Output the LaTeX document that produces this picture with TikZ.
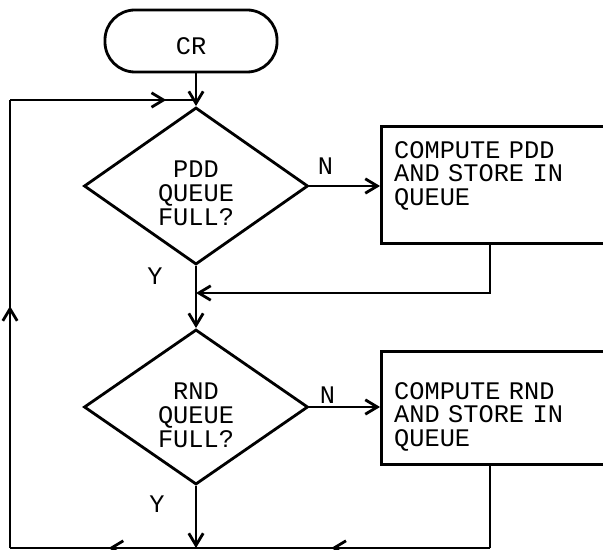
\documentclass[tikz,border=0pt]{standalone}
\usepackage{fontspec}
\setmonofont{Liberation Mono}
\usetikzlibrary{arrows.meta,positioning,shapes.geometric,decorations.markings}

\begin{document}
\begin{tikzpicture}[x=0.025cm,y=-0.025cm,
    line width=2pt,
    every node/.style={font=\ttfamily\fontsize{18}{17}\selectfont},
    flow/.style={-{Straight Barb[length=0.3cm,width=0.36cm]}},
    midflow/.style={postaction={decorate},decoration={markings,
      mark=at position #1 with {\arrow{Straight Barb[length=0.3cm,width=0.36cm]}}}},
    terminal/.style={draw,rectangle,rounded corners=0.75cm,minimum width=4.3cm,
      minimum height=1.55cm,inner sep=0pt,text height=0.72cm,text depth=0.05cm},
    decision/.style={draw,diamond,minimum width=5.6cm,minimum height=3.7cm,
      inner sep=0pt,text width=3cm,align=center,text height=0.25cm},
    process/.style={draw,rectangle,anchor=north west,text width=6cm,
      inner xsep=0.32cm,inner ysep=0pt,align=left},
    yn/.style={inner sep=0pt}]
    \useasboundingbox (0,0) rectangle (603,550);
    \clip (0,0) rectangle (603,550);

    \node[terminal] (cr) at (191,41) {CR};
    \node[decision,text depth=0.675cm] (pddq) at (196,186) {PDD\\QUEUE\\FULL?};
    \node[decision,text depth=0.625cm] (rndq) at (196,407) {RND\\QUEUE\\FULL?};
    \node[process,text height=0.79cm,text depth=2.14cm] (pdd) at (380,125)
      {COMPUTE PDD\\AND STORE IN\\QUEUE};
    \node[process,text height=1.19cm,text depth=1.64cm] (rnd) at (380,350)
      {COMPUTE RND\\AND STORE IN\\QUEUE};

    \node[yn,above right=0.26cm and 0.175cm of pddq.east] (n1) {N};
    \node[yn,below left=0cm and 0.8cm of pddq.south] (y1) {Y};
    \node[yn,above right=0.06cm and 0.225cm of rndq.east] (n2) {N};
    \node[yn,below left=0.21cm and 0.75cm of rndq.south] (y2) {Y};

    % loop corners and return points
    \coordinate (ul) at (10,100);
    \coordinate (ll) at (10,548);
    \coordinate (pddret) at (490,293);
    \coordinate (rndret) at (490,548);

    \draw[flow] (cr.south -| pddq.north) -- (pddq.north);
    \draw[flow] (pddq.east) -- (pddq.east -| pdd.west);
    \draw[flow] (pddq.south) -- (rndq.north);
    \draw[flow] (pdd.south -| pddret) -- (pddret) -- (pddret -| pddq.south);
    \draw[flow] (rndq.east) -- (rndq.east -| rnd.west);
    \draw[flow] (rndq.south) -- (rndq.south |- ll);
    \draw (rnd.south -| rndret) -- (rndret);
    \draw[midflow=0.54] (rndret) -- (rndq.south |- ll);
    \draw[midflow=0.47] (rndq.south |- ll) -- (ll);
    \draw[midflow=0.54] (ll) -- (ul);
    \draw[midflow=0.84] (ul) -- (ul -| pddq.north);
\end{tikzpicture}
\end{document}
